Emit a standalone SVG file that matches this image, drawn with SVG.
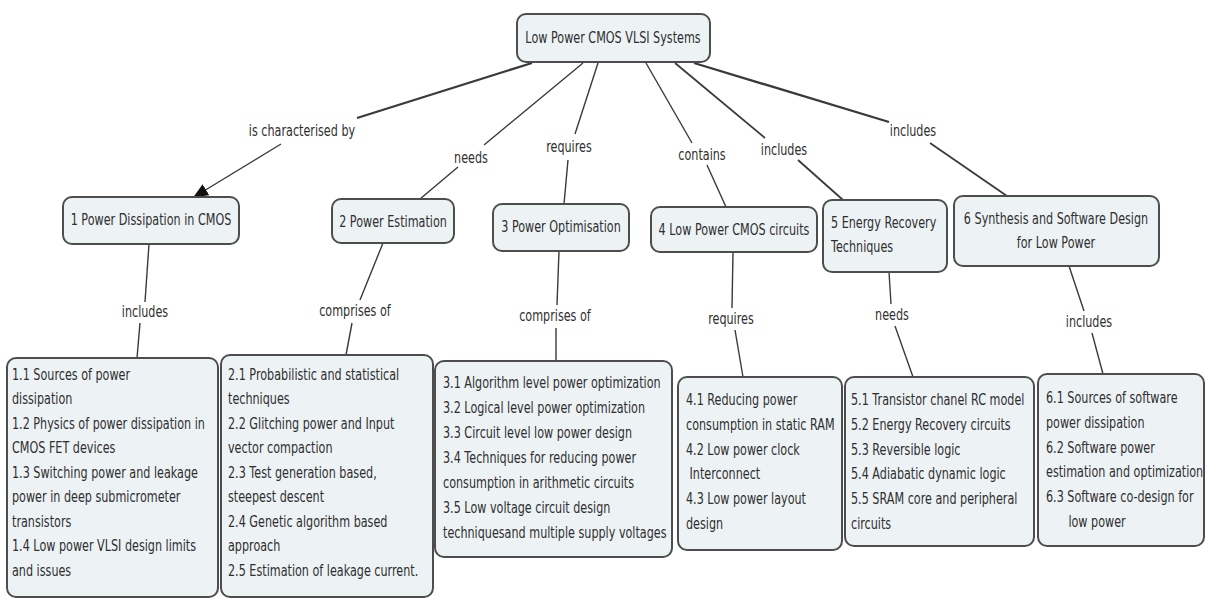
<svg xmlns="http://www.w3.org/2000/svg" width="1206" height="599" viewBox="0 0 1206 599">
  <style>
    .box { fill: #edf2f5; stroke: #4d4d4d; stroke-width: 2; }
    .t { font-family: "DejaVu Sans", Verdana, "Noto Sans", sans-serif; font-size: 16px; fill: #2e2e2e; }
    .m { text-anchor: middle; }
    .c { stroke: #3a3a3a; stroke-width: 1.4; fill: none; }
    .k { stroke-width: 2.3; }
    .h { stroke-width: 1.8; }
  </style>
  <defs>
    <marker id="arrow" markerUnits="userSpaceOnUse" markerWidth="15" markerHeight="13" refX="14" refY="6.5" orient="auto">
      <path d="M0,0 L15,6.5 L0,13 z" fill="#111"/>
    </marker>
  </defs>

  <rect width="1206" height="599" fill="#ffffff"/>

  <!-- connectors and linking phrases -->
  <g id="connectors">
    <line class="c k" x1="532" y1="63" x2="357" y2="118"/>
    <line class="c" x1="281" y1="144" x2="194" y2="197" marker-end="url(#arrow)"/>
    <line class="c" x1="583" y1="63" x2="484" y2="145"/>
    <line class="c" x1="458" y1="167" x2="420" y2="199"/>
    <line class="c" x1="598" y1="63" x2="575" y2="134"/>
    <line class="c" x1="568" y1="160" x2="564" y2="204"/>
    <line class="c" x1="646" y1="63" x2="692" y2="143"/>
    <line class="c" x1="707" y1="165" x2="726" y2="207"/>
    <line class="c h" x1="675" y1="63" x2="765" y2="138"/>
    <line class="c h" x1="798" y1="160" x2="843" y2="200"/>
    <line class="c k" x1="694" y1="63" x2="889" y2="122"/>
    <line class="c h" x1="930" y1="143" x2="1007" y2="196"/>

    <line class="c" x1="149" y1="244" x2="145" y2="302"/>
    <line class="c" x1="140" y1="323" x2="137" y2="358"/>
    <line class="c" x1="383" y1="243" x2="360" y2="300"/>
    <line class="c" x1="352" y1="323" x2="346" y2="355"/>
    <line class="c" x1="559" y1="251" x2="557" y2="305"/>
    <line class="c" x1="556" y1="328" x2="556" y2="361"/>
    <line class="c" x1="733" y1="252" x2="732" y2="308"/>
    <line class="c" x1="735" y1="330" x2="743" y2="377"/>
    <line class="c" x1="889" y1="272" x2="891" y2="304"/>
    <line class="c" x1="895" y1="326" x2="913" y2="377"/>
    <line class="c" x1="1069" y1="266" x2="1084" y2="311"/>
    <line class="c" x1="1092" y1="333" x2="1103" y2="374"/>

    <text class="t m" transform="translate(302,136) scale(0.7,1)">is characterised by</text>
    <text class="t m" transform="translate(471,163) scale(0.7,1)">needs</text>
    <text class="t m" transform="translate(569,152) scale(0.7,1)">requires</text>
    <text class="t m" transform="translate(702,160) scale(0.7,1)">contains</text>
    <text class="t m" transform="translate(784,155) scale(0.7,1)">includes</text>
    <text class="t m" transform="translate(913,136) scale(0.7,1)">includes</text>
    <text class="t m" transform="translate(145,317) scale(0.7,1)">includes</text>
    <text class="t m" transform="translate(355,316) scale(0.7,1)">comprises of</text>
    <text class="t m" transform="translate(555,321) scale(0.7,1)">comprises of</text>
    <text class="t m" transform="translate(731,324) scale(0.7,1)">requires</text>
    <text class="t m" transform="translate(892,320) scale(0.7,1)">needs</text>
    <text class="t m" transform="translate(1089,327) scale(0.7,1)">includes</text>
  </g>

  <!-- root concept -->
  <g id="root">
    <rect class="box" x="517" y="14" width="193" height="48" rx="9"/>
    <text class="t m" transform="translate(613,43) scale(0.7,1)">Low Power CMOS VLSI Systems</text>
  </g>

  <!-- first level concepts -->
  <g id="n1">
    <rect class="box" x="63" y="197" width="176" height="47" rx="9"/>
    <text class="t m" transform="translate(151,225) scale(0.7,1)">1 Power Dissipation in CMOS</text>
  </g>
  <g id="n2">
    <rect class="box" x="332" y="199" width="122" height="44" rx="9"/>
    <text class="t m" transform="translate(393,227) scale(0.7,1)">2 Power Estimation</text>
  </g>
  <g id="n3">
    <rect class="box" x="493" y="204" width="136" height="47" rx="9"/>
    <text class="t m" transform="translate(561,232) scale(0.7,1)">3 Power Optimisation</text>
  </g>
  <g id="n4">
    <rect class="box" x="651" y="207" width="166" height="45" rx="9"/>
    <text class="t m" transform="translate(734,235) scale(0.7,1)">4 Low Power CMOS circuits</text>
  </g>
  <g id="n5">
    <rect class="box" x="823" y="200" width="124" height="72" rx="9"/>
    <text class="t" transform="translate(831,228) scale(0.7,1)"><tspan x="0">5 Energy Recovery</tspan><tspan x="0" dy="24.5">Techniques</tspan></text>
  </g>
  <g id="n6">
    <rect class="box" x="954" y="196" width="205" height="70" rx="9"/>
    <text class="t m" transform="translate(1056,224) scale(0.7,1)"><tspan x="0">6 Synthesis and Software Design</tspan><tspan x="0" dy="24.5">for Low Power</tspan></text>
  </g>

  <!-- topic lists -->
  <g id="b1">
    <rect class="box" x="7" y="358" width="211" height="239" rx="9"/>
    <text class="t" transform="translate(12,380) scale(0.7,1)"><tspan x="0">1.1 Sources of power</tspan><tspan x="0" dy="24.5">dissipation</tspan><tspan x="0" dy="24.5">1.2 Physics of power dissipation in</tspan><tspan x="0" dy="24.5">CMOS FET devices</tspan><tspan x="0" dy="24.5">1.3 Switching power and leakage</tspan><tspan x="0" dy="24.5">power in deep submicrometer</tspan><tspan x="0" dy="24.5">transistors</tspan><tspan x="0" dy="24.5">1.4 Low power VLSI design limits</tspan><tspan x="0" dy="24.5">and issues</tspan></text>
  </g>
  <g id="b2">
    <rect class="box" x="221" y="355" width="212" height="242" rx="9"/>
    <text class="t" transform="translate(228,380) scale(0.7,1)"><tspan x="0">2.1 Probabilistic and statistical</tspan><tspan x="0" dy="24.5">techniques</tspan><tspan x="0" dy="24.5">2.2 Glitching power and Input</tspan><tspan x="0" dy="24.5">vector compaction</tspan><tspan x="0" dy="24.5">2.3 Test generation based,</tspan><tspan x="0" dy="24.5">steepest descent</tspan><tspan x="0" dy="24.5">2.4 Genetic algorithm based</tspan><tspan x="0" dy="24.5">approach</tspan><tspan x="0" dy="24.5">2.5 Estimation of leakage current.</tspan></text>
  </g>
  <g id="b3">
    <rect class="box" x="435" y="361" width="237" height="196" rx="9"/>
    <text class="t" transform="translate(443,388) scale(0.7,1)"><tspan x="0">3.1 Algorithm level power optimization</tspan><tspan x="0" dy="25">3.2 Logical level power optimization</tspan><tspan x="0" dy="25">3.3 Circuit level low power design</tspan><tspan x="0" dy="25">3.4 Techniques for reducing power</tspan><tspan x="0" dy="25">consumption in arithmetic circuits</tspan><tspan x="0" dy="25">3.5 Low voltage circuit design</tspan><tspan x="0" dy="25">techniquesand multiple supply voltages</tspan></text>
  </g>
  <g id="b4">
    <rect class="box" x="678" y="377" width="164" height="173" rx="9"/>
    <text class="t" transform="translate(686,405) scale(0.7,1)"><tspan x="0">4.1 Reducing power</tspan><tspan x="0" dy="24.8">consumption in static RAM</tspan><tspan x="0" dy="24.8">4.2 Low power clock</tspan><tspan x="0" dy="24.8"> Interconnect</tspan><tspan x="0" dy="24.8">4.3 Low power layout</tspan><tspan x="0" dy="24.8">design</tspan></text>
  </g>
  <g id="b5">
    <rect class="box" x="845" y="377" width="189" height="169" rx="9"/>
    <text class="t" transform="translate(851,405) scale(0.7,1)"><tspan x="0">5.1 Transistor chanel RC model</tspan><tspan x="0" dy="24.8">5.2 Energy Recovery circuits</tspan><tspan x="0" dy="24.8">5.3 Reversible logic</tspan><tspan x="0" dy="24.8">5.4 Adiabatic dynamic logic</tspan><tspan x="0" dy="24.8">5.5 SRAM core and peripheral</tspan><tspan x="0" dy="24.8">circuits</tspan></text>
  </g>
  <g id="b6">
    <rect class="box" x="1038" y="374" width="166" height="172" rx="9"/>
    <text class="t" transform="translate(1046,403) scale(0.7,1)"><tspan x="0">6.1 Sources of software</tspan><tspan x="0" dy="24.8">power dissipation</tspan><tspan x="0" dy="24.8">6.2 Software power</tspan><tspan x="0" dy="24.8">estimation and optimization</tspan><tspan x="0" dy="24.8">6.3 Software co-design for</tspan><tspan x="32" dy="24.8">low power</tspan></text>
  </g>
</svg>
